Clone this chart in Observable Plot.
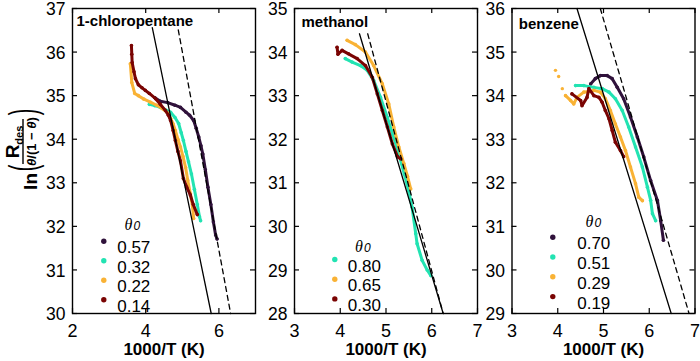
<!DOCTYPE html>
<html><head><meta charset="utf-8">
<script src="https://cdn.jsdelivr.net/npm/d3@7"></script>
<script src="https://cdn.jsdelivr.net/npm/@observablehq/plot@0.6"></script>
<style>
body{margin:0;background:#fff;}
#chart{position:relative;width:700px;height:361px;overflow:hidden;background:#fff;}
#chart svg{position:absolute;top:0;}
</style></head><body><div id="chart"></div>
<script>
const FONT = "'Liberation Sans', Arial, Helvetica, sans-serif";
const PURPLE = "#30123b", TURQ = "#22e3b2", ORANGE = "#f9b235", DARKRED = "#7a0403";

// ---------- Panel 1: 1-chloropentane ----------
const chloroTitle = "1-chloropentane";
const chloroXTicks = [2, 4, 6];
const chloroXLabels = [2, 4, 6];
const chloroYTicks = [30, 31, 32, 33, 34, 35, 36, 37];
const chloroLabels = ["0.57", "0.32", "0.22", "0.14"];
const chloro057 = [[4.25,34.95],[4.4,34.87],[4.6,34.84],[4.8,34.78],[4.95,34.73],[5.1,34.62],[5.2,34.55],[5.31,34.43],[5.38,34.25],[5.45,34.05],[5.51,33.85],[5.56,33.66],[5.63,33.3],[5.7,32.9],[5.78,32.5],[5.85,32.1],[5.91,31.8],[5.95,31.71]];
const chloro032 = [[4.1,34.8],[4.25,34.77],[4.4,34.73],[4.55,34.67],[4.68,34.62],[4.8,34.5],[4.9,34.36],[4.97,34.15],[5.03,33.97],[5.1,33.72],[5.17,33.48],[5.25,33.2],[5.33,32.85],[5.41,32.5],[5.47,32.22],[5.5,32.13]];
const chloro022 = [[3.58,35.73],[3.62,35.3],[3.7,35.05],[3.8,35.0],[3.95,34.92],[4.13,34.85],[4.3,34.78],[4.46,34.7],[4.6,34.6],[4.68,34.48],[4.75,34.35],[4.81,34.2],[4.88,34.0],[4.95,33.82],[5.02,33.6],[5.09,33.35],[5.15,33.05],[5.22,32.75],[5.28,32.45],[5.31,32.18]];
const chloro014 = [[3.61,36.15],[3.62,35.95],[3.63,35.76],[3.68,35.55],[3.72,35.39],[3.8,35.25],[3.9,35.18],[3.99,35.12],[4.1,35.05],[4.27,34.93],[4.4,34.8],[4.54,34.66],[4.62,34.55],[4.68,34.43],[4.75,34.2],[4.81,33.97],[4.88,33.72],[4.95,33.5],[5.03,33.1],[5.12,32.9],[5.22,32.72],[5.3,32.5],[5.41,32.27]];
const chloroSolid = [[4.18,36.56],[5.79,30]];
const chloroDashed = [[4.89,36.51],[6.32,30]];

// ---------- Panel 2: methanol ----------
const methTitle = "methanol";
const methXTicks = [3, 4, 5, 6, 7];
const methYTicks = [28, 29, 30, 31, 32, 33, 34, 35];
const methLabels = ["0.80", "0.65", "0.30"];
const meth080 = [[4.11,33.85],[4.26,33.77],[4.44,33.69],[4.59,33.58],[4.73,33.35],[4.88,32.96],[5.03,32.5],[5.15,32.1],[5.27,31.7],[5.4,31.2],[5.5,30.8],[5.57,30.44],[5.65,29.83],[5.68,29.6],[5.79,29.22],[5.9,29.0],[5.98,28.87]];
const meth065 = [[4.15,34.27],[4.33,34.17],[4.55,34.0],[4.73,33.69],[4.92,33.27],[5.06,32.81],[5.17,32.28],[5.28,31.82],[5.39,31.44],[5.47,31.15],[5.54,30.86]];
const meth030 = [[3.93,34.11],[3.95,33.95],[4.04,34.04],[4.18,33.96],[4.37,33.85],[4.55,33.69],[4.7,33.42],[4.81,33.04],[4.92,32.66],[5.03,32.28],[5.14,31.89],[5.25,31.6],[5.32,31.55]];
const methSolid = [[4.42,34.42],[6.25,28]];
const methDashed = [[4.6,34.42],[6.25,28]];

// ---------- Panel 3: benzene ----------
const benzTitle = "benzene";
const benzXTicks = [3, 4, 5, 6, 7];
const benzYTicks = [29, 30, 31, 32, 33, 34, 35, 36];
const benzLabels = ["0.70", "0.51", "0.29", "0.19"];
const benz070 = [[4.72,34.27],[4.82,34.39],[4.93,34.46],[5.08,34.46],[5.19,34.39],[5.3,34.19],[5.44,33.93],[5.59,33.51],[5.74,33.05],[5.88,32.59],[6.03,32.05],[6.18,31.59],[6.25,31.13],[6.31,30.68]];
const benz051 = [[4.39,34.23],[4.57,34.23],[4.79,34.19],[4.97,34.16],[5.12,34.08],[5.26,33.93],[5.41,33.66],[5.55,33.28],[5.7,32.82],[5.85,32.36],[5.96,31.9],[6.03,31.6],[6.07,31.29],[6.14,31.13]];
const benz029Sparse = [[3.95,34.58],[4.02,34.44],[4.1,34.16]];
const benz029 = [[4.17,34.0],[4.28,33.89],[4.35,33.81],[4.42,33.96],[4.57,34.08],[4.79,34.12],[4.93,34.08],[5.04,33.93],[5.15,33.66],[5.26,33.35],[5.37,33.05],[5.48,32.74],[5.59,32.36],[5.7,31.98],[5.77,31.67],[5.85,31.59]];
const benz019 = [[4.31,34.04],[4.5,33.89],[4.53,33.77],[4.64,33.96],[4.68,34.16],[4.79,34.0],[4.9,33.96],[4.97,33.85],[5.04,33.66],[5.12,33.47],[5.19,33.2],[5.26,32.93],[5.37,32.74],[5.44,32.6]];
const benzSolid = [[4.42,36],[6.48,29]];
const benzDashed = [[4.93,36],[6.87,29]];

const xLabelText = "1000/T (K)";

const W = 183, H = 305;
const px = d => d[0], py = d => d[1];

function panel(cfg) {
  const marks = [];
  for (const s of cfg.series) {
    marks.push(Plot.line(s.data, {x: px, y: py, stroke: s.color, strokeWidth: 3}));
    marks.push(Plot.dot(s.data, {x: px, y: py, r: 1.8, fill: s.color}));
    if (s.sparse) marks.push(Plot.dot(s.sparse, {x: px, y: py, r: 1.7, fill: s.color}));
  }
  marks.push(Plot.line(cfg.solid, {x: px, y: py, stroke: "black", strokeWidth: 1.3}));
  marks.push(Plot.line(cfg.dashed, {x: px, y: py, stroke: "black", strokeWidth: 1.3, strokeDasharray: "5,4"}));
  marks.push(Plot.tickX(cfg.xTicks, {x: d => d, insetTop: H - 5, strokeWidth: 1.2}));
  marks.push(Plot.tickX(cfg.xTicks, {x: d => d, insetBottom: H - 5, strokeWidth: 1.2}));
  marks.push(Plot.tickY(cfg.yTicks, {y: d => d, insetRight: W - 5, strokeWidth: 1.2}));
  marks.push(Plot.tickY(cfg.yTicks, {y: d => d, insetLeft: W - 5, strokeWidth: 1.2}));
  marks.push(Plot.axisX(cfg.xLabels, {tickSize: 0, tickPadding: 11, label: null, fontSize: 18}));
  marks.push(Plot.axisY(cfg.yTicks, {tickSize: 0, tickPadding: 7, label: null, fontSize: 17.5, dy: 1}));
  marks.push(Plot.frame({stroke: "black", strokeWidth: 1.4}));
  marks.push(Plot.text([cfg.title], {frameAnchor: "top-left", dx: cfg.titleDx, dy: cfg.titleDy, text: d => d, textAnchor: "start", lineAnchor: "bottom", fontWeight: "bold", fontSize: 15}));
  marks.push(Plot.text([xLabelText], {frameAnchor: "bottom", dy: 41, text: d => d, fontWeight: "bold", fontSize: 17}));
  // legend
  marks.push(Plot.text(["θ"], {frameAnchor: "top-left", dx: cfg.leg.thDx, dy: cfg.leg.thDy, text: d => d, fontStyle: "italic", fontFamily: "'Liberation Serif', 'DejaVu Serif', serif", fontSize: 16}));
  marks.push(Plot.text(["0"], {frameAnchor: "top-left", dx: cfg.leg.thDx + 9, dy: cfg.leg.thDy + 3, text: d => d, fontStyle: "italic", fontSize: 12}));
  cfg.series.forEach((s, i) => {
    const dy = cfg.leg.dy0 + i * cfg.leg.step;
    marks.push(Plot.dot([s.label], {frameAnchor: "top-left", dx: cfg.leg.dotDx, dy, r: 2.7, fill: s.color}));
    marks.push(Plot.text([s.label], {frameAnchor: "top-left", dx: cfg.leg.textDx, dy, text: d => d, textAnchor: "start", fontSize: 17}));
  });
  const svg = Plot.plot({
    width: cfg.width, height: 361,
    marginTop: 8, marginBottom: 48, marginLeft: cfg.marginLeft, marginRight: cfg.width - cfg.marginLeft - W,
    x: {domain: cfg.xDomain}, y: {domain: cfg.yDomain},
    style: {fontFamily: FONT, fontSize: "18px", color: "black", background: "transparent", overflow: "visible"},
    marks
  });
  svg.style.left = cfg.left + "px";
  return svg;
}

const chart = document.getElementById("chart");

chart.appendChild(panel({
  left: 0, width: 260, marginLeft: 72,
  xDomain: [2, 7], yDomain: [30, 37],
  xTicks: chloroXTicks, xLabels: chloroXLabels, yTicks: chloroYTicks,
  title: chloroTitle, titleDx: 4, titleDy: 17,
  series: [
    {data: chloro057, color: PURPLE, label: chloroLabels[0]},
    {data: chloro032, color: TURQ, label: chloroLabels[1]},
    {data: chloro022, color: ORANGE, label: chloroLabels[2]},
    {data: chloro014, color: DARKRED, label: chloroLabels[3]}
  ],
  solid: chloroSolid, dashed: chloroDashed,
  leg: {thDx: 52, thDy: 210, dotDx: 31.3, textDx: 44.7, dy0: 232.7, step: 19.5}
}));

chart.appendChild(panel({
  left: 260, width: 223, marginLeft: 34,
  xDomain: [3, 7], yDomain: [28, 35],
  xTicks: methXTicks, xLabels: methXTicks, yTicks: methYTicks,
  title: methTitle, titleDx: 7, titleDy: 18.7,
  series: [
    {data: meth080, color: TURQ, label: methLabels[0]},
    {data: meth065, color: ORANGE, label: methLabels[1]},
    {data: meth030, color: DARKRED, label: methLabels[2]}
  ],
  solid: methSolid, dashed: methDashed,
  leg: {thDx: 60.5, thDy: 232, dotDx: 40.3, textDx: 53.3, dy0: 251, step: 19.7}
}));

chart.appendChild(panel({
  left: 483, width: 217, marginLeft: 28.5,
  xDomain: [3, 7], yDomain: [29, 36],
  xTicks: benzXTicks, xLabels: benzXTicks, yTicks: benzYTicks,
  title: benzTitle, titleDx: 6.8, titleDy: 20.3,
  series: [
    {data: benz070, color: PURPLE, label: benzLabels[0]},
    {data: benz051, color: TURQ, label: benzLabels[1]},
    {data: benz029, sparse: benz029Sparse, color: ORANGE, label: benzLabels[2]},
    {data: benz019, color: DARKRED, label: benzLabels[3]}
  ],
  solid: benzSolid, dashed: benzDashed,
  leg: {thDx: 73.5, thDy: 207, dotDx: 40.8, textDx: 65.2, dy0: 228.7, step: 19.8}
}));

// Y-axis label: ln( R_des / (θ/(1−θ)) ), rotated
const ysvg = d3.select(chart).append("svg").attr("width", 50).attr("height", 361).style("left", "0px");
const g = ysvg.append("g").attr("transform", "translate(23,148) rotate(-90)")
  .attr("font-family", FONT).attr("font-weight", "bold").attr("fill", "black");
g.append("text").attr("x", -25).attr("y", 14).attr("text-anchor", "end").attr("font-size", 19).text("ln");
g.append("text").attr("transform", "translate(-20,12.5) scale(0.5,1)").attr("text-anchor", "middle").attr("font-size", 39).attr("font-weight", "normal").text("(");
g.append("text").attr("transform", "translate(36,12.5) scale(0.5,1)").attr("text-anchor", "middle").attr("font-size", 39).attr("font-weight", "normal").text(")");
const num = g.append("text").attr("x", 6).attr("y", -4).attr("text-anchor", "middle").attr("font-size", 19);
num.append("tspan").text("R");
num.append("tspan").attr("font-size", 11).attr("dy", 4).text("des");
g.append("line").attr("x1", -16).attr("x2", 29).attr("y1", 0).attr("y2", 0).attr("stroke", "black").attr("stroke-width", 1.4);
const den = g.append("text").attr("x", 6.5).attr("y", 13).attr("text-anchor", "middle").attr("font-size", 13);
den.append("tspan").attr("font-style", "italic").text("θ");
den.append("tspan").text("/(1 − ");
den.append("tspan").attr("font-style", "italic").text("θ");
den.append("tspan").text(")");
</script>
</body></html>
